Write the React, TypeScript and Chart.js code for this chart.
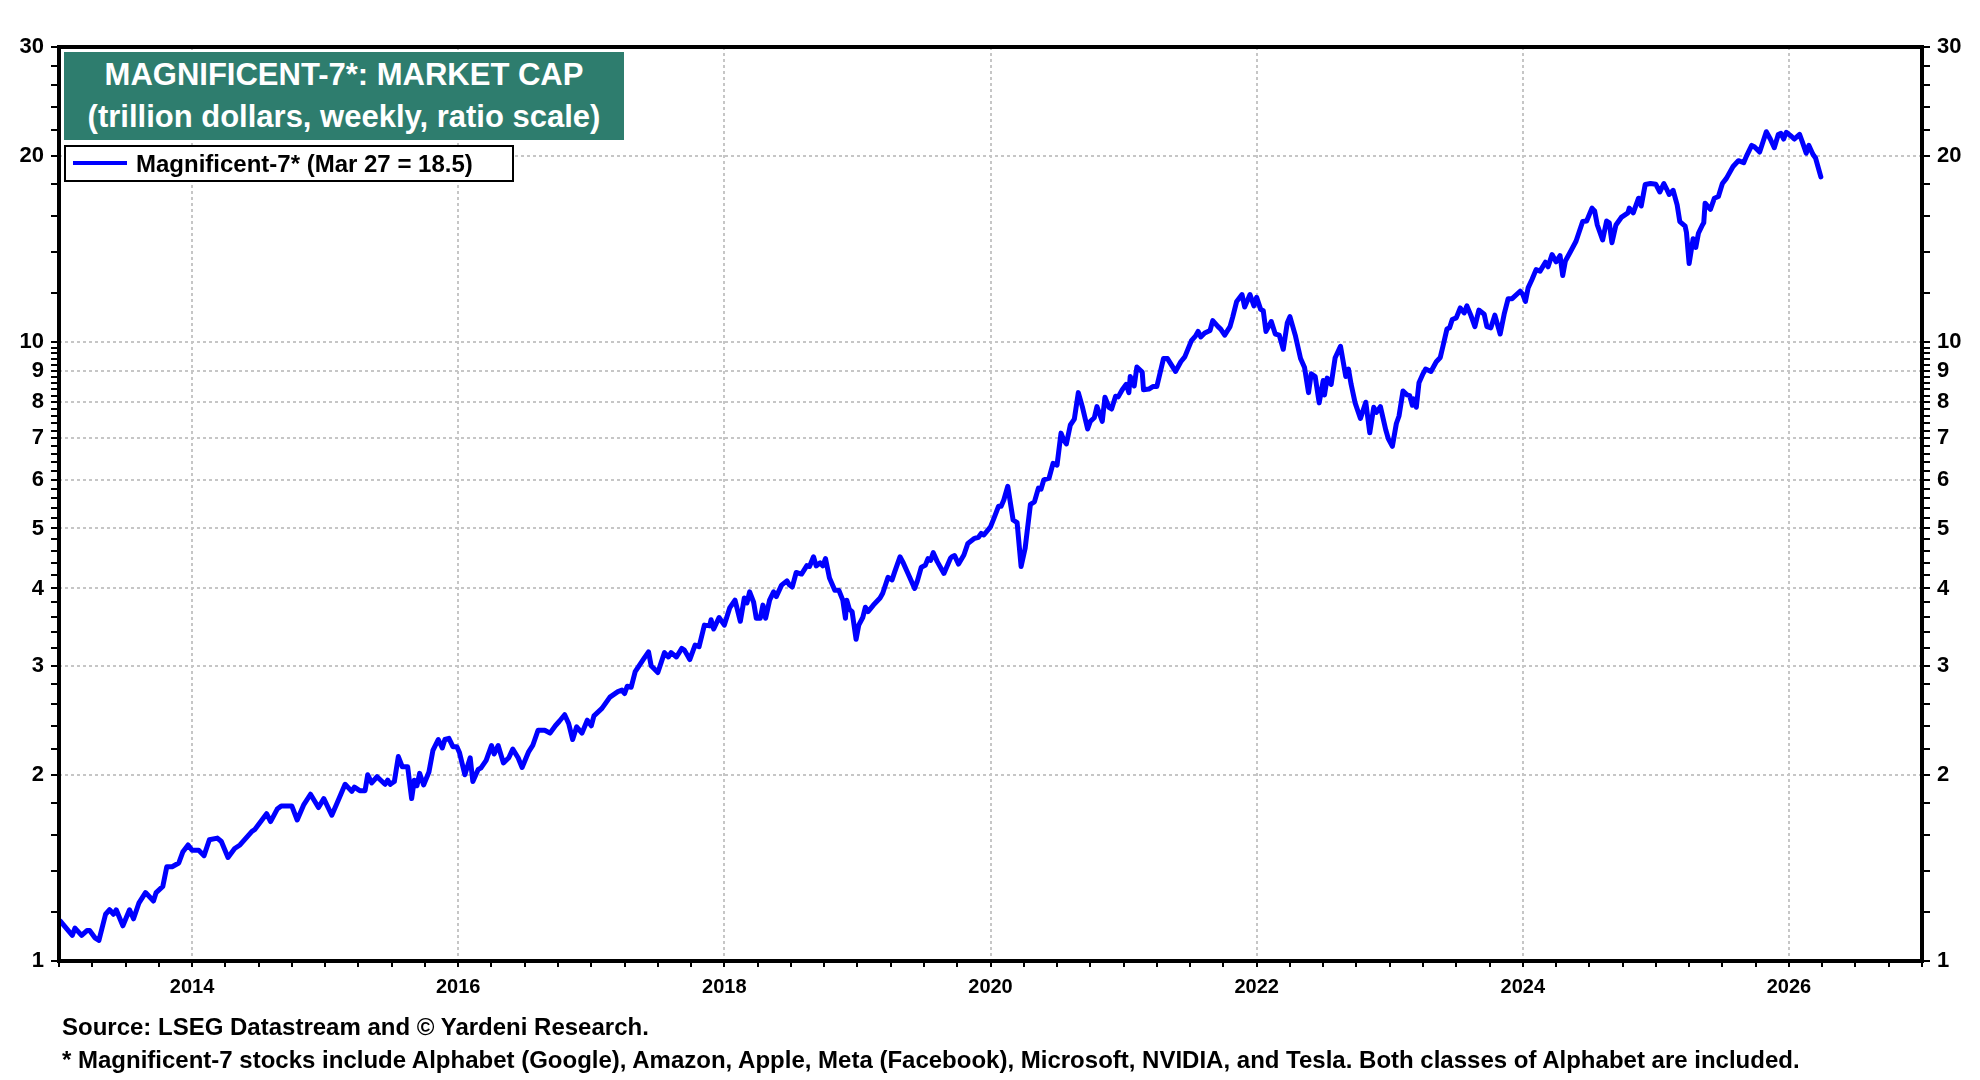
import React, { useEffect, useRef } from 'react';
import { Chart, registerables } from 'chart.js';

Chart.register(...registerables);

// Weekly market cap of the Magnificent-7 (trillion dollars).
// DATES are decimal years; VALUES are aligned one-to-one with DATES.
const DATES = [
  2013.01, 2013.10, 2013.12, 2013.17, 2013.21, 2013.23, 2013.27, 2013.30, 2013.35, 2013.38,
  2013.41, 2013.43, 2013.48, 2013.53, 2013.56, 2013.60, 2013.65, 2013.68, 2013.71, 2013.73,
  2013.78, 2013.81, 2013.85, 2013.90, 2013.93, 2013.97,
  2014.00, 2014.05, 2014.09, 2014.13, 2014.19, 2014.22, 2014.27, 2014.32, 2014.36, 2014.45,
  2014.47, 2014.56, 2014.59, 2014.64, 2014.67, 2014.72, 2014.75, 2014.79, 2014.84, 2014.89,
  2014.95, 2014.99,
  2015.05, 2015.09, 2015.15, 2015.20, 2015.22, 2015.26, 2015.30, 2015.32, 2015.35, 2015.39,
  2015.45, 2015.47, 2015.49, 2015.52, 2015.55, 2015.58, 2015.62, 2015.65, 2015.67, 2015.69,
  2015.71, 2015.74, 2015.78, 2015.81, 2015.85, 2015.88, 2015.90, 2015.93, 2015.96, 2015.99,
  2016.01, 2016.05, 2016.09, 2016.11, 2016.15, 2016.17, 2016.21, 2016.25, 2016.27, 2016.30,
  2016.34, 2016.38, 2016.41, 2016.45, 2016.48, 2016.53, 2016.56, 2016.60, 2016.65, 2016.69,
  2016.73, 2016.76, 2016.80, 2016.83, 2016.86, 2016.89, 2016.93, 2016.97,
  2017.00, 2017.02, 2017.08, 2017.14, 2017.20, 2017.23, 2017.25, 2017.27, 2017.30, 2017.33,
  2017.39, 2017.43, 2017.45, 2017.50, 2017.55, 2017.58, 2017.60, 2017.64, 2017.68, 2017.70,
  2017.74, 2017.78, 2017.81, 2017.85, 2017.89, 2017.90, 2017.92, 2017.96,
  2018.00, 2018.04, 2018.08, 2018.12, 2018.15, 2018.17, 2018.19, 2018.22, 2018.24, 2018.27,
  2018.29, 2018.31, 2018.34, 2018.37, 2018.39, 2018.43, 2018.47, 2018.49, 2018.51, 2018.54,
  2018.58, 2018.62, 2018.64, 2018.67, 2018.69, 2018.72, 2018.74, 2018.76, 2018.79, 2018.83,
  2018.86, 2018.89, 2018.91, 2018.92, 2018.94, 2018.96, 2018.99,
  2019.01, 2019.04, 2019.06, 2019.08, 2019.12, 2019.17, 2019.19, 2019.23, 2019.26, 2019.28,
  2019.32, 2019.34, 2019.38, 2019.43, 2019.45, 2019.48, 2019.51, 2019.53, 2019.55, 2019.57,
  2019.60, 2019.65, 2019.70, 2019.71, 2019.73, 2019.76, 2019.80, 2019.83, 2019.88, 2019.91,
  2019.93, 2019.95,
  2020.00, 2020.03, 2020.06, 2020.08, 2020.10, 2020.13, 2020.17, 2020.20, 2020.23, 2020.26,
  2020.30, 2020.33, 2020.36, 2020.38, 2020.40, 2020.44, 2020.47, 2020.50, 2020.53, 2020.55,
  2020.57, 2020.60, 2020.63, 2020.66, 2020.69, 2020.73, 2020.75, 2020.78, 2020.80, 2020.84,
  2020.86, 2020.89, 2020.91, 2020.94, 2020.96, 2020.99,
  2021.02, 2021.04, 2021.05, 2021.08, 2021.10, 2021.14, 2021.15, 2021.19, 2021.22, 2021.25,
  2021.30, 2021.33, 2021.39, 2021.43, 2021.46, 2021.51, 2021.54, 2021.56, 2021.58, 2021.61,
  2021.65, 2021.67, 2021.71, 2021.73, 2021.76, 2021.80, 2021.82, 2021.85, 2021.89, 2021.91,
  2021.95, 2021.98,
  2022.00, 2022.03, 2022.05, 2022.07, 2022.11, 2022.14, 2022.17, 2022.20, 2022.23, 2022.25,
  2022.29, 2022.33, 2022.36, 2022.39, 2022.41, 2022.44, 2022.47, 2022.50, 2022.51, 2022.53,
  2022.56, 2022.59, 2022.63, 2022.67, 2022.69, 2022.71, 2022.74, 2022.78, 2022.82, 2022.85,
  2022.88, 2022.90, 2022.93, 2022.97, 2022.99,
  2023.02, 2023.05, 2023.07, 2023.10, 2023.13, 2023.15, 2023.17, 2023.18, 2023.20, 2023.22,
  2023.25, 2023.27, 2023.31, 2023.35, 2023.38, 2023.40, 2023.43, 2023.45, 2023.47, 2023.50,
  2023.53, 2023.56, 2023.58, 2023.61, 2023.64, 2023.67, 2023.71, 2023.73, 2023.76, 2023.79,
  2023.83, 2023.86, 2023.89, 2023.92, 2023.98,
  2024.00, 2024.02, 2024.04, 2024.07, 2024.10, 2024.13, 2024.17, 2024.19, 2024.22, 2024.25,
  2024.28, 2024.30, 2024.32, 2024.36, 2024.40, 2024.45, 2024.48, 2024.52, 2024.54, 2024.56,
  2024.60, 2024.63, 2024.65, 2024.67, 2024.70, 2024.74, 2024.79, 2024.80, 2024.83, 2024.87,
  2024.89, 2024.92, 2024.96,
  2025.00, 2025.03, 2025.06, 2025.08, 2025.10, 2025.13, 2025.16, 2025.18, 2025.22, 2025.23,
  2025.25, 2025.28, 2025.30, 2025.32, 2025.35, 2025.36, 2025.37, 2025.41, 2025.44, 2025.47,
  2025.50, 2025.53, 2025.58, 2025.62, 2025.66, 2025.68, 2025.72, 2025.74, 2025.78, 2025.83,
  2025.86, 2025.89, 2025.92, 2025.94, 2025.96, 2025.98,
  2026.02, 2026.04, 2026.08, 2026.10, 2026.13, 2026.15, 2026.18, 2026.20, 2026.24,
];

const VALUES = [
  1.16, 1.10, 1.13, 1.10, 1.12, 1.12, 1.09, 1.08, 1.19, 1.21,
  1.19, 1.21, 1.14, 1.21, 1.17, 1.24, 1.29, 1.27, 1.25, 1.29,
  1.32, 1.42, 1.42, 1.44, 1.50, 1.54,
  1.51, 1.51, 1.48, 1.57, 1.58, 1.56, 1.47, 1.52, 1.54, 1.62,
  1.63, 1.73, 1.68, 1.76, 1.78, 1.78, 1.78, 1.69, 1.79, 1.86,
  1.77, 1.83,
  1.72, 1.80, 1.93, 1.88, 1.91, 1.885, 1.885, 2.00, 1.94, 1.985,
  1.93, 1.96, 1.93, 1.95, 2.14, 2.06, 2.06, 1.83, 1.96, 1.92,
  2.01, 1.925, 2.02, 2.19, 2.28, 2.21, 2.28, 2.29, 2.22, 2.22,
  2.17, 2.00, 2.13, 1.95, 2.04, 2.05, 2.11, 2.23, 2.16, 2.23,
  2.09, 2.13, 2.20, 2.13, 2.055, 2.18, 2.23, 2.36, 2.36, 2.335,
  2.40, 2.44, 2.50, 2.42, 2.28, 2.39, 2.335, 2.45,
  2.40, 2.49, 2.56, 2.67, 2.725, 2.74, 2.705, 2.78, 2.77, 2.935,
  3.07, 3.16, 3.00, 2.925, 3.15, 3.10, 3.15, 3.10, 3.20, 3.18,
  3.07, 3.24, 3.22, 3.49, 3.48, 3.56, 3.44, 3.59,
  3.49, 3.72, 3.83, 3.54, 3.86, 3.79, 3.95, 3.80, 3.58, 3.58,
  3.76, 3.58, 3.83, 3.95, 3.88, 4.05, 4.115, 4.05, 4.02, 4.245,
  4.22, 4.355, 4.34, 4.50, 4.35, 4.40, 4.35, 4.47, 4.16, 3.975,
  3.975, 3.83, 3.58, 3.83, 3.70, 3.67, 3.31,
  3.49, 3.59, 3.73, 3.67, 3.76, 3.86, 3.93, 4.17, 4.13, 4.255,
  4.50, 4.42, 4.23, 4.00, 4.11, 4.33, 4.36, 4.47, 4.44, 4.57,
  4.42, 4.23, 4.48, 4.50, 4.52, 4.38, 4.53, 4.73, 4.82, 4.84,
  4.91, 4.88,
  5.03, 5.22, 5.43, 5.43, 5.56, 5.85, 5.16, 5.11, 4.34, 4.64,
  5.47, 5.52, 5.81, 5.79, 5.99, 6.03, 6.37, 6.33, 7.13, 6.95,
  6.85, 7.35, 7.51, 8.29, 7.87, 7.24, 7.45, 7.55, 7.87, 7.45,
  8.15, 7.85, 7.80, 8.18, 8.16, 8.38,
  8.55, 8.29, 8.80, 8.50, 9.12, 8.95, 8.38, 8.40, 8.48, 8.48,
  9.41, 9.41, 8.97, 9.30, 9.47, 10.06, 10.23, 10.41, 10.20, 10.35,
  10.45, 10.84, 10.60, 10.50, 10.27, 10.60, 10.98, 11.64, 11.94, 11.40,
  11.94, 11.45,
  11.82, 11.30, 11.24, 10.41, 10.80, 10.31, 10.27, 9.74, 10.74, 11.00,
  10.27, 9.41, 9.10, 8.29, 8.89, 8.80, 7.98, 8.67, 8.22, 8.75,
  8.55, 9.44, 9.85, 8.80, 9.05, 8.55, 7.98, 7.53, 8.00, 7.14,
  7.85, 7.70, 7.87, 7.22, 6.98,
  6.79, 7.39, 7.60, 8.34, 8.22, 8.20, 7.91, 8.10, 7.85, 8.60,
  8.89, 9.05, 8.97, 9.30, 9.45, 9.85, 10.50, 10.55, 10.88, 10.95,
  11.36, 11.15, 11.45, 11.05, 10.60, 11.27, 11.10, 10.60, 10.55, 11.06,
  10.31, 11.10, 11.76, 11.76, 12.09,
  11.95, 11.64, 12.24, 12.64, 13.10, 13.03, 13.47, 13.24, 13.86, 13.49,
  13.80, 12.82, 13.53, 14.03, 14.56, 15.67, 15.70, 16.47, 16.30, 15.47,
  14.63, 15.70, 15.60, 14.48, 15.47, 15.91, 16.18, 16.47, 16.18, 17.09,
  16.60, 17.98, 18.05,
  18.00, 17.49, 18.05, 17.70, 17.33, 17.60, 16.67, 15.67, 15.40, 15.04,
  13.40, 14.70, 14.23, 15.00, 15.47, 15.60, 16.78, 16.40, 17.09, 17.20,
  18.05, 18.40, 19.23, 19.65, 19.50, 19.97, 20.80, 20.70, 20.29, 21.89,
  21.30, 20.62, 21.66, 21.75, 21.30, 21.84,
  21.50, 21.30, 21.67, 21.10, 20.20, 20.80, 20.13, 19.85, 18.50,
];

const SERIES_LABEL = 'Magnificent-7* (Mar 27 = 18.5)';
const TITLE_LINES = ['MAGNIFICENT-7*: MARKET CAP', '(trillion dollars, weekly, ratio scale)'];
const FOOTNOTES = [
  'Source: LSEG Datastream and © Yardeni Research.',
  '* Magnificent-7 stocks include Alphabet (Google), Amazon, Apple, Meta (Facebook), Microsoft, NVIDIA, and Tesla. Both classes of Alphabet are included.',
];

const X_MIN = 2013;
const X_MAX = 2027;
const X_LABEL_YEARS = [2014, 2016, 2018, 2020, 2022, 2024, 2026];
const X_TICKS_PER_YEAR = 4;

const Y_MIN = 1;
const Y_MAX = 30;
const Y_LABELS = [1, 2, 3, 4, 5, 6, 7, 8, 9, 10, 20, 30];
const Y_GRID = [2, 3, 4, 5, 6, 7, 8, 9, 10, 20];

const FONT = "'Liberation Sans', Arial, Helvetica, sans-serif";
const LINE_COLOR = '#0000ff';
const GRID_COLOR = '#c6c6c6';
const TITLE_BG = '#2e7d6e';

function buildXTicks(): number[] {
  const out: number[] = [];
  for (let y = X_MIN; y <= X_MAX; y++) {
    for (let q = 0; q < X_TICKS_PER_YEAR; q++) {
      const v = y + q / X_TICKS_PER_YEAR;
      if (v <= X_MAX) out.push(v);
    }
  }
  return out;
}

function buildYTicks(): number[] {
  const out: number[] = [];
  for (let i = 0; i < Y_LABELS.length - 1; i++) {
    const a = Y_LABELS[i];
    const b = Y_LABELS[i + 1];
    const step = a < 10 ? 0.2 : 2;
    for (let k = 0; a + k * step < b - 1e-9; k++) {
      out.push(Math.round((a + k * step) * 1000) / 1000);
    }
  }
  out.push(Y_MAX);
  return out;
}

const isIn = (arr: number[], v: number) => arr.some((a) => Math.abs(a - v) < 1e-6);

export default function App() {
  const canvasRef = useRef<HTMLCanvasElement | null>(null);

  useEffect(() => {
    document.body.style.margin = '0';
    const canvas = canvasRef.current;
    if (!canvas) return;

    const xTicks = buildXTicks();
    const yTicks = buildYTicks();

    const yScale = (position: 'left' | 'right', width: number, onArea: boolean) => ({
      type: 'logarithmic' as const,
      position,
      min: Y_MIN,
      max: Y_MAX,
      afterBuildTicks: (s: any) => {
        s.ticks = yTicks.map((v) => ({ value: v }));
      },
      afterFit: (s: any) => {
        s.width = width;
      },
      ticks: {
        autoSkip: false,
        padding: 7,
        color: '#000',
        font: { family: FONT, size: 22, weight: 'bold' as const },
        callback: (v: any) => (isIn(Y_LABELS, Number(v)) ? String(Number(v)) : ''),
      },
      grid: {
        drawOnChartArea: onArea,
        color: (ctx: any) => (ctx.tick && isIn(Y_GRID, ctx.tick.value) ? GRID_COLOR : 'rgba(0,0,0,0)'),
        lineWidth: 2,
        drawTicks: true,
        tickLength: 8,
        tickWidth: 2,
        tickColor: '#000',
      },
      border: { display: false, dash: [3, 3] },
    });

    const frame = {
      id: 'frame',
      afterDraw(chart: any) {
        const { ctx, chartArea } = chart;
        const { left, top, right, bottom } = chartArea;
        ctx.save();
        ctx.lineWidth = 4;
        ctx.strokeStyle = '#000';
        ctx.strokeRect(left, top, right - left, bottom - top);
        ctx.restore();
      },
    };

    const chart = new Chart(canvas, {
      type: 'line',
      data: {
        datasets: [
          {
            label: SERIES_LABEL,
            data: DATES.map((d, i) => ({ x: d, y: VALUES[i] })),
            borderColor: LINE_COLOR,
            backgroundColor: LINE_COLOR,
            borderWidth: 5,
            pointRadius: 0,
            tension: 0,
            borderJoinStyle: 'round',
            borderCapStyle: 'round',
            yAxisID: 'y',
          },
        ],
      },
      options: {
        responsive: false,
        animation: false,
        maintainAspectRatio: false,
        layout: { padding: { top: 47, left: 0, right: 0, bottom: 0 } },
        plugins: {
          legend: { display: false },
          tooltip: { enabled: false },
          title: { display: false },
        },
        scales: {
          x: {
            type: 'linear',
            min: X_MIN,
            max: X_MAX,
            afterBuildTicks: (s: any) => {
              s.ticks = xTicks.map((v) => ({ value: v }));
            },
            afterFit: (s: any) => {
              s.height = 119;
            },
            ticks: {
              autoSkip: false,
              maxRotation: 0,
              minRotation: 0,
              padding: 8,
              color: '#000',
              font: { family: FONT, size: 20, weight: 'bold' },
              callback: (v: any) => (isIn(X_LABEL_YEARS, Number(v)) ? String(Number(v)) : ''),
            },
            grid: {
              color: (ctx: any) =>
                ctx.tick && isIn(X_LABEL_YEARS, ctx.tick.value) ? GRID_COLOR : 'rgba(0,0,0,0)',
              lineWidth: 2,
              drawTicks: true,
              tickLength: 6,
              tickWidth: 2,
              tickColor: '#000',
            },
            border: { display: false, dash: [3, 3] },
          },
          y: yScale('left', 59, true),
          y2: yScale('right', 58, false),
        } as any,
      },
      plugins: [frame],
    });

    return () => {
      chart.destroy();
    };
  }, []);

  return (
    <div style={{ position: 'absolute', left: 0, top: 0, width: 1980, height: 1080, background: '#fff', fontFamily: FONT }}>
      <canvas ref={canvasRef} width={1980} height={1080} style={{ position: 'absolute', left: 0, top: 0, width: 1980, height: 1080 }} />
      <div
        style={{
          position: 'absolute',
          left: 64,
          top: 52,
          width: 560,
          height: 88,
          background: TITLE_BG,
          color: '#fff',
          fontWeight: 'bold',
          fontSize: 31,
          lineHeight: '42px',
          textAlign: 'center',
          paddingTop: 2,
          boxSizing: 'border-box',
          whiteSpace: 'nowrap',
        }}
      >
        {TITLE_LINES.map((t) => (
          <div key={t}>{t}</div>
        ))}
      </div>
      <div
        style={{
          position: 'absolute',
          left: 64,
          top: 145,
          width: 450,
          height: 37,
          border: '2px solid #000',
          background: '#fff',
          boxSizing: 'border-box',
        }}
      >
        <div style={{ position: 'absolute', left: 7, top: 14, width: 54, height: 4, background: LINE_COLOR }} />
        <div
          style={{
            position: 'absolute',
            left: 70,
            top: 0,
            lineHeight: '33px',
            fontSize: 24,
            fontWeight: 'bold',
            color: '#000',
            whiteSpace: 'nowrap',
          }}
        >
          {SERIES_LABEL}
        </div>
      </div>
      {FOOTNOTES.map((t, i) => (
        <div
          key={i}
          style={{
            position: 'absolute',
            left: 62,
            top: 1012 + i * 33,
            fontSize: 24,
            lineHeight: '30px',
            fontWeight: 'bold',
            color: '#000',
            whiteSpace: 'nowrap',
          }}
        >
          {t}
        </div>
      ))}
    </div>
  );
}
